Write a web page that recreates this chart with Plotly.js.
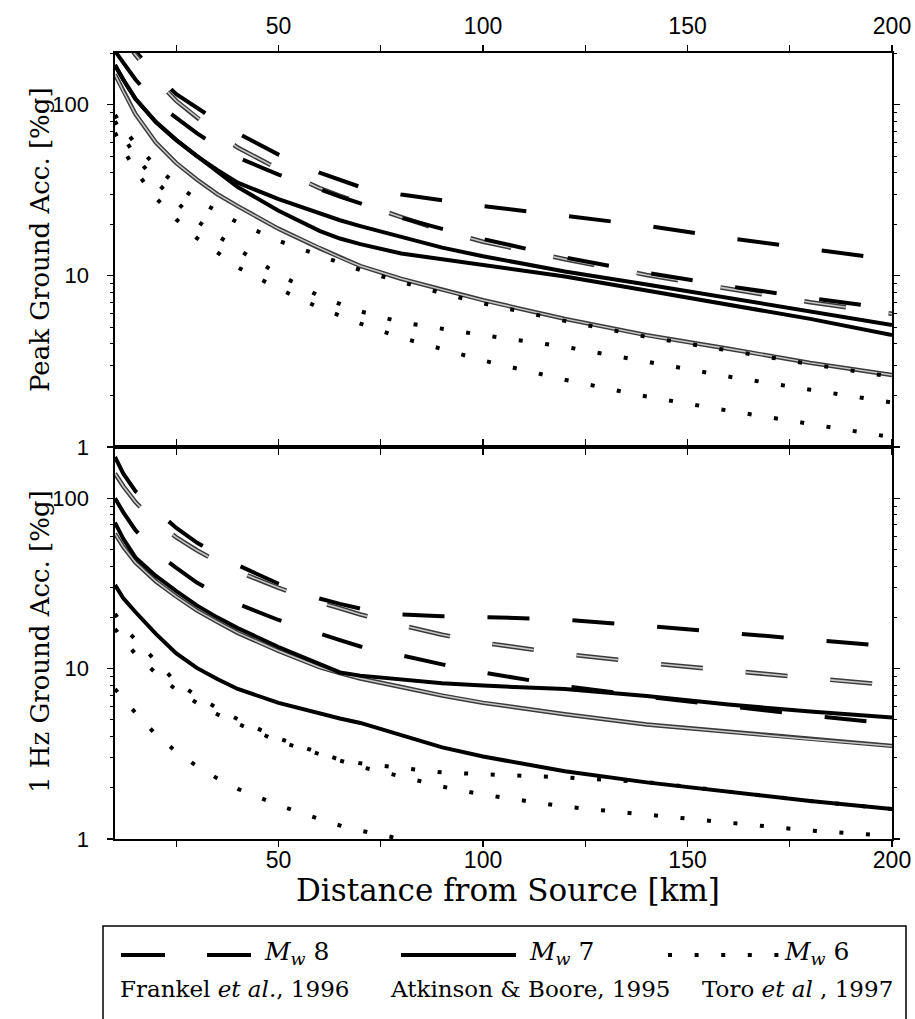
<!DOCTYPE html>
<html>
<head>
<meta charset="utf-8">
<script src="https://cdn.plot.ly/plotly-3.0.1.min.js"></script>
<style>
  html, body { margin: 0; padding: 0; background: #ffffff; }
  #chart { width: 915px; height: 1019px; }
</style>
</head>
<body>
<div id="chart"></div>
<script>
// ---------------- DATA ----------------
const distanceKm = [10, 12, 15, 20, 25, 30, 35, 40, 50, 60, 65, 70, 80, 90, 100, 120, 140, 160, 180, 200];

// Peak ground acceleration [%g]
const pgaDashUpper  = [290, 250, 205, 150, 115, 96, 80, 68, 51, 40, 36.3, 33, 29.8, 27.5, 25.5, 22.4, 19.6, 16.6, 14.3, 12.4];
const pgaDashGrey   = [290, 245, 195, 140, 105, 84, 68, 56, 42, 32.5, 29.3, 26.5, 22, 18.4, 15.8, 12.5, 10.1, 8.4, 7.0, 6.0];
const pgaDashLower  = [205, 175, 140, 103, 83, 68, 57, 49, 39, 31.8, 29, 26.5, 21.8, 18.8, 16.4, 12.8, 10.4, 8.7, 7.4, 6.4];
const pgaSolidUpper = [170, 140, 108, 79, 62, 50, 41.5, 35, 28, 23, 21.1, 19.5, 16.8, 14.6, 13, 10.6, 8.9, 7.4, 6.2, 5.16];
const pgaSolidLower = [170, 140, 108, 79, 62, 50, 41, 33, 24, 18.3, 16.5, 15.3, 13.5, 12.5, 11.6, 9.9, 8.2, 6.8, 5.6, 4.5];
const pgaSolidGrey  = [150, 120, 88, 60, 45.5, 36.5, 30, 25.5, 18.8, 14.5, 12.8, 11.4, 9.6, 8.3, 7.2, 5.6, 4.5, 3.75, 3.1, 2.63];
const pgaDotUpper   = [87, 73, 59, 43.5, 34, 28, 23.7, 20.5, 16, 13.1, 11.9, 10.8, 9.2, 7.9, 6.9, 5.45, 4.4, 3.65, 3.05, 2.57];
const pgaDotMid     = [80, 65, 50, 35.5, 27, 21, 17.2, 14.3, 10.2, 7.6, 6.85, 6.2, 5.35, 4.9, 4.5, 3.85, 3.15, 2.58, 2.16, 1.82];
const pgaDotLower   = [68.5, 55, 41, 28.5, 21.3, 16.6, 13.7, 11.2, 8.4, 6.5, 5.85, 5.25, 4.35, 3.72, 3.2, 2.47, 1.97, 1.63, 1.37, 1.14];

// 1 Hz ground acceleration [%g]
const hzDashUpper  = [175, 140, 110, 85, 67, 55, 47, 40.5, 31.5, 25.8, 24, 22.5, 20.8, 20.3, 20.1, 19.4, 17.8, 16.2, 14.8, 13.5];
const hzDashGrey   = [140, 118, 95, 72, 59, 49.5, 42.5, 37.2, 29.8, 24.5, 22.6, 20.8, 18, 15.8, 14.2, 12.2, 10.8, 9.7, 8.8, 8.0];
const hzDashLower  = [100, 83, 65, 48, 39, 32, 27.5, 24, 19.3, 16, 14.7, 13.5, 11.9, 10.6, 9.5, 7.9, 6.85, 6.0, 5.3, 4.75];
const hzSolidUpper = [72, 58, 45, 35, 28.5, 23.5, 20, 17.3, 13.4, 10.6, 9.5, 9.1, 8.6, 8.2, 7.95, 7.6, 6.9, 6.15, 5.6, 5.17];
const hzSolidGrey  = [62, 52, 42, 32.5, 26.5, 22, 18.8, 16.2, 12.7, 10.2, 9.4, 8.75, 7.8, 6.95, 6.3, 5.4, 4.7, 4.25, 3.85, 3.52];
const hzSolidLower = [31, 26, 21.5, 16, 12.3, 10.1, 8.7, 7.6, 6.3, 5.45, 5.1, 4.8, 4.05, 3.45, 3.05, 2.5, 2.15, 1.9, 1.67, 1.5];
const hzDotUpper   = [21, 17.8, 14.8, 11.0, 8.3, 6.95, 5.85, 5.05, 3.9, 3.2, 2.92, 2.78, 2.6, 2.46, 2.4, 2.3, 2.16, 1.9, 1.67, 1.5];
const hzDotMid     = [17.1, 14.8, 12.2, 9.4, 7.5, 6.3, 5.4, 4.75, 3.75, 3.15, 2.88, 2.65, 2.33, 2.03, 1.82, 1.55, 1.39, 1.25, 1.12, 1.04];
const hzDotLower   = [7.6, 6.7, 5.5, 4.1, 3.25, 2.68, 2.27, 1.97, 1.58, 1.31, 1.2, 1.12, 1.0, null, null, null, null, null, null, null];

// Tick labels
const xTickVals = [50, 100, 150, 200];
const xTickText = ['50', '100', '150', '200'];
const xMinorVals = [25, 75, 125, 175];
const yTickVals = [1, 10, 100];
const yTickText = ['1', '10', '100'];
const yMinorVals = [2, 3, 4, 5, 6, 7, 8, 9, 20, 30, 40, 50, 60, 70, 80, 90, 200];

// Titles and legend texts
const xTitle = 'Distance from Source [km]';
const yTitleTop = 'Peak Ground Acc. [%g]';
const yTitleBottom = '1 Hz Ground Acc. [%g]';
const legendMagnitudes = ['<i>M</i><sub><i>w</i></sub> 8', '<i>M</i><sub><i>w</i></sub> 7', '<i>M</i><sub><i>w</i></sub> 6'];
const legendSources = ['Frankel <i>et al.</i>, 1996', 'Atkinson &amp; Boore, 1995', 'Toro <i>et al</i> , 1997'];

// ---------------- STYLES ----------------
const DASH = '42px,43px';
const DOT = '4px,22.6px';
const traces = [];

function addCurve(xa, ya, y, kind) {
  const base = {x: distanceKm, y: y, xaxis: xa, yaxis: ya, mode: 'lines', hoverinfo: 'skip', showlegend: false, connectgaps: false};
  if (kind === 'blackDash') {
    traces.push(Object.assign({}, base, {line: {color: '#000', width: 4, dash: DASH}}));
  } else if (kind === 'greyDash') {
    traces.push(Object.assign({}, base, {line: {color: '#3a3a3a', width: 4.6, dash: DASH}}));
    traces.push(Object.assign({}, base, {line: {color: '#c8c8c8', width: 1.6, dash: DASH}}));
  } else if (kind === 'blackSolid') {
    traces.push(Object.assign({}, base, {line: {color: '#000', width: 4}}));
  } else if (kind === 'greySolid') {
    traces.push(Object.assign({}, base, {line: {color: '#3a3a3a', width: 4.4}}));
    traces.push(Object.assign({}, base, {line: {color: '#c8c8c8', width: 1.5}}));
  } else if (kind === 'dot') {
    traces.push(Object.assign({}, base, {line: {color: '#000', width: 4, dash: DOT}}));
  }
}

// Top panel (PGA): xaxis x2 (top), yaxis y
addCurve('x2', 'y', pgaDashUpper, 'blackDash');
addCurve('x2', 'y', pgaDashGrey, 'greyDash');
addCurve('x2', 'y', pgaDashLower, 'blackDash');
addCurve('x2', 'y', pgaSolidGrey, 'greySolid');
addCurve('x2', 'y', pgaSolidLower, 'blackSolid');
addCurve('x2', 'y', pgaSolidUpper, 'blackSolid');
addCurve('x2', 'y', pgaDotUpper, 'dot');
addCurve('x2', 'y', pgaDotMid, 'dot');
addCurve('x2', 'y', pgaDotLower, 'dot');

// Bottom panel (1 Hz): xaxis x (bottom), yaxis y2
addCurve('x', 'y2', hzDashUpper, 'blackDash');
addCurve('x', 'y2', hzDashGrey, 'greyDash');
addCurve('x', 'y2', hzDashLower, 'blackDash');
addCurve('x', 'y2', hzSolidGrey, 'greySolid');
addCurve('x', 'y2', hzSolidUpper, 'blackSolid');
addCurve('x', 'y2', hzSolidLower, 'blackSolid');
addCurve('x', 'y2', hzDotUpper, 'dot');
addCurve('x', 'y2', hzDotMid, 'dot');
addCurve('x', 'y2', hzDotLower, 'dot');

const sans = 'Liberation Sans, Arial, sans-serif';
const serif = 'DejaVu Serif, serif';

function xAxis(anchor, side, standoff) {
  return {
    anchor: anchor, side: side, domain: [0, 1], range: [10, 200],
    tickmode: 'array', tickvals: xTickVals, ticktext: xTickText,
    ticks: 'outside', ticklen: 6, tickwidth: 1.3, tickcolor: '#000',
    minor: {tickmode: 'array', tickvals: xMinorVals, ticks: 'outside', ticklen: 6, tickwidth: 1.3, tickcolor: '#000', showgrid: false},
    ticklabelstandoff: standoff,
    showline: true, linecolor: '#000', linewidth: 1.6, mirror: 'ticks',
    showgrid: false, zeroline: false, tickfont: {family: sans, size: 23, color: '#000'}, fixedrange: true
  };
}

function yAxis(domain) {
  return {
    domain: domain, type: 'log', range: [0, Math.log10(200)],
    tickmode: 'array', tickvals: yTickVals, ticktext: yTickText,
    ticks: 'outside', ticklen: 6, tickwidth: 1.3, tickcolor: '#000',
    ticklabelstandoff: 14,
    minor: {tickmode: 'array', tickvals: yMinorVals, ticks: 'outside', ticklen: 3, tickwidth: 1, tickcolor: '#000', showgrid: false},
    showline: true, linecolor: '#000', linewidth: 1.6, mirror: 'ticks',
    showgrid: false, zeroline: false, tickfont: {family: sans, size: 22, color: '#000'}, fixedrange: true
  };
}

// paper coordinate helpers for titles and the legend block outside the plot
const L = 115, R = 23, T = 53, B = 180, W = 915, H = 1019;
const pw = W - L - R, ph = H - T - B;
const px = v => (v - L) / pw;
const py = v => (H - B - v) / ph;

const shapes = [
  {type: 'rect', xref: 'paper', yref: 'paper', x0: px(103), x1: px(906), y0: py(926), y1: py(1030), line: {color: '#000', width: 1.5}, fillcolor: 'rgba(0,0,0,0)'},
  {type: 'line', xref: 'paper', yref: 'paper', x0: px(121), x1: px(165), y0: py(955), y1: py(955), line: {color: '#000', width: 4}},
  {type: 'line', xref: 'paper', yref: 'paper', x0: px(207), x1: px(251), y0: py(955), y1: py(955), line: {color: '#000', width: 4}},
  {type: 'line', xref: 'paper', yref: 'paper', x0: px(401), x1: px(516), y0: py(955), y1: py(955), line: {color: '#000', width: 4}},
  {type: 'line', xref: 'paper', yref: 'paper', x0: px(668), x1: px(780), y0: py(955), y1: py(955), line: {color: '#000', width: 4, dash: DOT}}
];

const annFont = {family: serif, size: 25, color: '#000'};
const srcFont = {family: serif, size: 23, color: '#000'};
const magX = [262, 527, 782];
const srcX = [118, 388, 700];
const annotations = [
  {xref: 'paper', yref: 'paper', x: px(508), y: py(890), xanchor: 'center', yanchor: 'middle', text: xTitle, showarrow: false, font: {family: serif, size: 31, color: '#000'}},
  {xref: 'paper', yref: 'paper', x: px(40), y: py(240), xanchor: 'center', yanchor: 'middle', textangle: -90, text: yTitleTop, showarrow: false, font: {family: serif, size: 26, color: '#000'}},
  {xref: 'paper', yref: 'paper', x: px(40), y: py(642), xanchor: 'center', yanchor: 'middle', textangle: -90, text: yTitleBottom, showarrow: false, font: {family: serif, size: 26, color: '#000'}}
];
legendMagnitudes.forEach((t, i) => annotations.push({xref: 'paper', yref: 'paper', x: px(magX[i]), y: py(953), xanchor: 'left', yanchor: 'middle', text: t, showarrow: false, font: annFont}));
legendSources.forEach((t, i) => annotations.push({xref: 'paper', yref: 'paper', x: px(srcX[i]), y: py(989), xanchor: 'left', yanchor: 'middle', text: t, showarrow: false, font: srcFont}));

const split = (839 - 447) / ph;

const layout = {
  width: W, height: H,
  margin: {l: L, r: R, t: T, b: B, pad: 0},
  paper_bgcolor: '#ffffff', plot_bgcolor: '#ffffff',
  showlegend: false,
  xaxis: xAxis('y2', 'bottom', -6),
  xaxis2: xAxis('y', 'top', 2),
  yaxis: yAxis([split, 1]),
  yaxis2: yAxis([0, split]),
  shapes: shapes,
  annotations: annotations
};

Plotly.newPlot('chart', traces, layout, {staticPlot: true, displayModeBar: false});
</script>
</body>
</html>
